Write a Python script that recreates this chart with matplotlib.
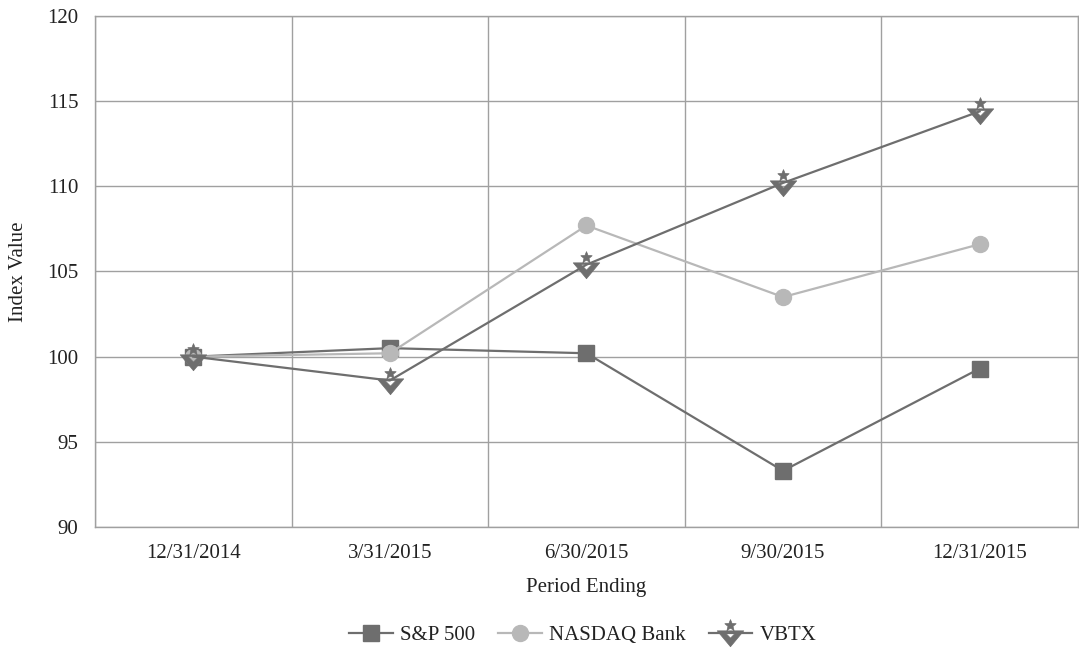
import matplotlib
matplotlib.use("Agg")
import matplotlib.pyplot as plt
import numpy as np
from matplotlib.path import Path

plt.rcParams['font.family'] = ['Liberation Serif', 'DejaVu Serif']

periods = ["12/31/2014", "3/31/2015", "6/30/2015", "9/30/2015", "12/31/2015"]
sp500 = [100.0, 100.5, 100.2, 93.3, 99.3]
nasdaq_bank = [100.0, 100.2, 107.7, 103.5, 106.6]
vbtx = [100.0, 98.6, 105.4, 110.2, 114.4]
y_ticks = [90, 95, 100, 105, 110, 115, 120]

# custom VBTX marker: chevron (triangle with hole) + star on top
def star(cx, cy, r_out, r_in):
    pts = []
    for i in range(10):
        ang = np.pi / 2 + i * np.pi / 5
        r = r_out if i % 2 == 0 else r_in
        pts.append((cx + r * np.cos(ang), cy + r * np.sin(ang)))
    return pts

outer = [(-1.0, 0.2), (1.0, 0.2), (0.0, -1.0), (-1.0, 0.2)]
inner = [(-0.42, 0.08), (0.0, -0.35), (0.42, 0.08), (-0.42, 0.08)]
st = star(0.0, 0.6, 0.45, 0.2)
verts = outer + inner + st + [st[0]]
codes = ([Path.MOVETO] + [Path.LINETO] * 2 + [Path.CLOSEPOLY] +
         [Path.MOVETO] + [Path.LINETO] * 2 + [Path.CLOSEPOLY] +
         [Path.MOVETO] + [Path.LINETO] * 9 + [Path.CLOSEPOLY])
vbtx_marker = Path(verts, codes)

fig = plt.figure(figsize=(10.79, 6.52), dpi=100)
ax = fig.add_axes([0.088, 0.1917, 0.911, 0.7838])

x = np.arange(len(periods))
dark = "#6e6e6e"
light = "#b8b8b8"

ax.plot(x, sp500, color=dark, lw=1.6, marker='s', markersize=11,
        markerfacecolor=dark, markeredgecolor=dark, label="S&P 500", zorder=3)
ax.plot(x, nasdaq_bank, color=light, lw=1.6, marker='o', markersize=11.5,
        markerfacecolor=light, markeredgecolor=light, label="NASDAQ Bank", zorder=4)
ax.plot(x, vbtx, color=dark, lw=1.6, marker=vbtx_marker, markersize=20,
        markerfacecolor=dark, markeredgecolor=dark, markeredgewidth=0.5,
        label="VBTX", zorder=5)

ax.set_xlim(-0.5, len(periods) - 0.5)
ax.set_ylim(90, 120)
ax.set_yticks(y_ticks)
ax.set_xticks(x)
ax.set_xticklabels(periods)
ax.set_xticks(np.arange(len(periods) + 1) - 0.5, minor=True)
ax.grid(True, which='major', axis='y', color='#a0a0a0', lw=1.0)
ax.grid(True, which='minor', axis='x', color='#a0a0a0', lw=1.0)
ax.set_axisbelow(True)
ax.tick_params(axis='both', which='both', length=0, labelsize=15, colors='#222222')
ax.tick_params(axis='x', pad=12)
ax.tick_params(axis='y', pad=12)
for s in ax.spines.values():
    s.set_color('#a0a0a0')
    s.set_linewidth(1.0)

ax.set_xlabel("Period Ending", fontsize=15, color='#222222', labelpad=11)
ax.set_ylabel("Index Value", fontsize=15, color='#222222', labelpad=14)

leg = fig.legend(loc='center', bbox_to_anchor=(0.54, 0.025), ncol=3, frameon=False,
                 fontsize=15, handlelength=2.1, columnspacing=1.1, handletextpad=0.35)
for t in leg.get_texts():
    t.set_color('#222222')

fig.savefig("out.png", dpi=100)
